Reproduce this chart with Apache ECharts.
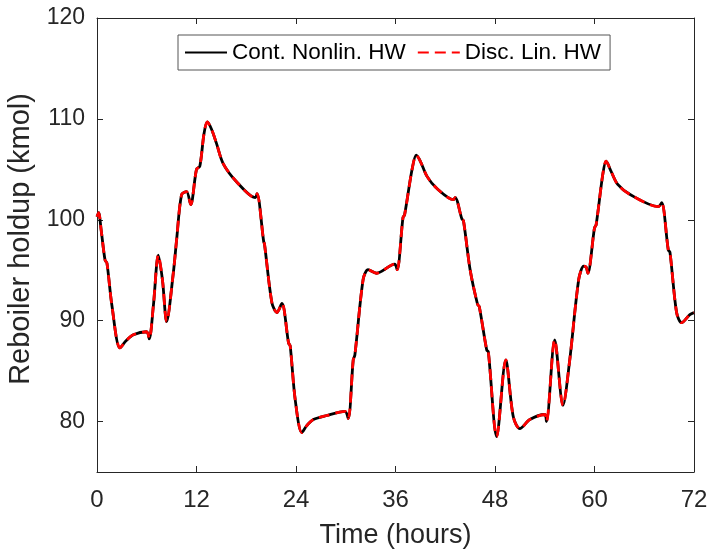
<!DOCTYPE html>
<html><head><meta charset="utf-8">
<script src="https://cdn.jsdelivr.net/npm/echarts@6/dist/echarts.min.js"></script>
<style>html,body{margin:0;padding:0;background:#fff}#c{width:709px;height:552px}</style>
</head><body><div id="c"></div>
<script>
const timeHours = [0, 0.2, 0.5, 0.97, 1.2, 1.8, 2.77, 3.5, 4.38, 5.99, 6.3, 6.8, 7.4, 7.9, 8.4, 9.2, 9.6, 10.2, 10.8, 11.3, 12.0, 12.4, 12.9, 13.3, 13.8, 14.4, 15.2, 16.8, 19.1, 19.3, 20.1, 20.2, 21.1, 21.7, 22.3, 23.1, 23.3, 23.9, 24.7, 25.3, 26.1, 27.7, 29.9, 30.3, 30.9, 31.1, 32.1, 32.7, 33.7, 35.9, 36.2, 36.9, 37.1, 38.0, 38.5, 39.0, 39.8, 41.0, 43.0, 43.2, 44.0, 44.2, 45.0, 45.9, 46.1, 47.0, 47.2, 48.2, 49.3, 50.2, 51.0, 52.2, 54.0, 54.2, 55.2, 56.2, 57.0, 58.1, 58.7, 59.0, 59.2, 60.0, 60.2, 61.0, 61.4, 62.0, 62.8, 64.3, 67.7, 68.1, 68.9, 69.1, 69.9, 70.5, 71.5, 72];
const contNonlinHW = [100.3, 100.7, 99.0, 96.0, 95.7, 91.5, 87.3, 88.0, 88.6, 88.9, 88.2, 91.5, 96.5, 94.0, 89.9, 94.7, 98.0, 102.5, 102.8, 101.5, 105.0, 105.3, 108.5, 109.7, 109.0, 107.6, 105.6, 103.8, 102.2, 102.6, 97.85, 97.6, 91.75, 90.8, 91.7, 87.8, 87.5, 82.2, 78.9, 79.6, 80.2, 80.6, 81.0, 80.3, 86.1, 86.6, 94.1, 95.05, 94.7, 95.6, 95.05, 100.2, 100.5, 105.0, 106.4, 105.8, 104.3, 103.1, 102.0, 102.2, 100.1, 99.9, 95.05, 91.6, 91.4, 87.1, 86.9, 78.5, 86.1, 80.5, 79.3, 80.2, 80.7, 80.0, 88.1, 81.6, 86.0, 94.1, 95.4, 95.3, 94.7, 99.2, 99.5, 104.5, 105.8, 104.8, 103.5, 102.5, 101.3, 101.7, 97.0, 96.8, 90.8, 89.8, 90.6, 90.8];
const discLinHW = [100.3, 100.7, 99.0, 96.0, 95.7, 91.5, 87.3, 88.0, 88.6, 88.9, 88.2, 91.5, 96.5, 94.0, 89.9, 94.7, 98.0, 102.5, 102.8, 101.5, 105.0, 105.3, 108.5, 109.7, 109.0, 107.6, 105.6, 103.8, 102.2, 102.6, 97.85, 97.6, 91.75, 90.8, 91.7, 87.8, 87.5, 82.2, 78.9, 79.6, 80.2, 80.6, 81.0, 80.3, 86.1, 86.6, 94.1, 95.05, 94.7, 95.6, 95.05, 100.2, 100.5, 105.0, 106.4, 105.8, 104.3, 103.1, 102.0, 102.2, 100.1, 99.9, 95.05, 91.6, 91.4, 87.1, 86.9, 78.5, 86.1, 80.5, 79.3, 80.2, 80.7, 80.0, 88.1, 81.6, 86.0, 94.1, 95.4, 95.3, 94.7, 99.2, 99.5, 104.5, 105.8, 104.8, 103.5, 102.5, 101.3, 101.7, 97.0, 96.8, 90.8, 89.8, 90.6, 90.8];
const xTicks = [0, 12, 24, 36, 48, 60, 72];
const yTicks = [80, 90, 100, 110, 120];
const seriesNames = ['Cont. Nonlin. HW', 'Disc. Lin. HW'];

const axisColor = '#262626';
const font = 'Liberation Sans, Arial, Helvetica, sans-serif';
const chart = echarts.init(document.getElementById('c'));
const pair = (xs, ys) => xs.map((x, i) => [x, ys[i]]);

chart.setOption({
  animation: false,
  backgroundColor: '#fff',
  grid: { left: 97, right: 15, top: 18, bottom: 80, containLabel: false, outerBoundsMode: 'none' },
  legend: {
    left: 178, top: 35,
    data: seriesNames,
    itemWidth: 42, itemHeight: 14, itemGap: 11,
    padding: [6, 9, 6, 6],
    borderColor: '#555', borderWidth: 1,
    backgroundColor: '#fff',
    itemStyle: { opacity: 0 },
    textStyle: { fontFamily: font, fontSize: 22.5, color: '#000' }
  },
  xAxis: [{
    type: 'value', min: 0, max: 72, interval: 12,
    name: 'Time (hours)', nameLocation: 'middle', nameGap: 50,
    nameTextStyle: { fontFamily: font, fontSize: 27, color: axisColor },
    axisLine: { show: true, onZero: false, lineStyle: { color: axisColor, width: 1 } },
    axisTick: { show: true, inside: true, length: 6, lineStyle: { color: axisColor } },
    axisLabel: { fontFamily: font, fontSize: 24, color: axisColor, margin: 16, customValues: xTicks },
    splitLine: { show: false }
  }, {
    type: 'value', min: 0, max: 72, interval: 12, position: 'top',
    axisLine: { show: true, onZero: false, lineStyle: { color: axisColor, width: 1 } },
    axisTick: { show: true, inside: true, length: 6, lineStyle: { color: axisColor } },
    axisLabel: { show: false }, splitLine: { show: false }
  }],
  yAxis: [{
    type: 'value', min: 75, max: 120, interval: 5,
    name: 'Reboiler holdup (kmol)', nameLocation: 'middle', nameGap: 57,
    nameTextStyle: { fontFamily: font, fontSize: 29, color: axisColor, padding: [0, 0, 0, 12] },
    axisLine: { show: true, onZero: false, lineStyle: { color: axisColor, width: 1 } },
    axisTick: { show: true, inside: true, length: 6, lineStyle: { color: axisColor }, customValues: yTicks },
    axisLabel: { fontFamily: font, fontSize: 23, color: axisColor, margin: 12, customValues: yTicks },
    splitLine: { show: false }
  }, {
    type: 'value', min: 75, max: 120, interval: 5, position: 'right',
    axisLine: { show: true, onZero: false, lineStyle: { color: axisColor, width: 1 } },
    axisTick: { show: true, inside: true, length: 6, lineStyle: { color: axisColor }, customValues: yTicks },
    axisLabel: { show: false }, splitLine: { show: false }
  }],
  series: [{
    name: seriesNames[0], type: 'line', xAxisIndex: 0, yAxisIndex: 0,
    data: pair(timeHours, contNonlinHW),
    symbol: 'none', smooth: 0.3,
    itemStyle: { color: '#000' },
    lineStyle: { color: '#000', width: 2.8 }
  }, {
    name: seriesNames[1], type: 'line', xAxisIndex: 0, yAxisIndex: 0,
    data: pair(timeHours, discLinHW),
    symbol: 'none', smooth: 0.3,
    itemStyle: { color: '#ff0000' },
    lineStyle: { color: '#ff0000', width: 2.8, type: [11, 6] }
  }]
});
</script></body></html>
